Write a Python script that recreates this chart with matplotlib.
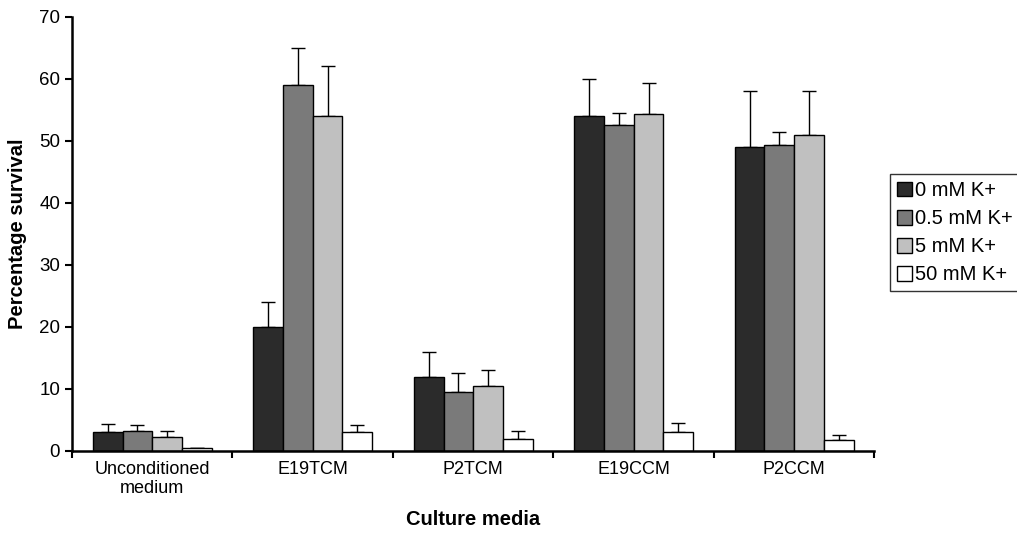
import numpy as np
import matplotlib.pyplot as plt

plt.rcParams['font.family'] = ['Liberation Sans', 'DejaVu Sans']

# Data
categories = ['Unconditioned\nmedium', 'E19TCM', 'P2TCM', 'E19CCM', 'P2CCM']
series = ['0 mM K+', '0.5 mM K+', '5 mM K+', '50 mM K+']
values = [
    [3.0, 20.0, 12.0, 54.0, 49.0],
    [3.3, 59.0, 9.5, 52.5, 49.4],
    [2.2, 54.0, 10.5, 54.4, 51.0],
    [0.4, 3.0, 2.0, 3.1, 1.8],
]
errors = [
    [1.3, 4.0, 4.0, 6.0, 9.0],
    [0.9, 6.0, 3.0, 2.0, 2.0],
    [1.1, 8.0, 2.5, 5.0, 7.0],
    [0.0, 1.2, 1.3, 1.4, 0.8],
]
colors = ['#2b2b2b', '#7a7a7a', '#c0c0c0', '#ffffff']

fig = plt.figure(figsize=(10.17, 5.44), dpi=100)
ax = fig.add_axes([0.0708, 0.171, 0.789, 0.798])

x = np.arange(len(categories))
w = 0.185
for i, (s, v, e, c) in enumerate(zip(series, values, errors, colors)):
    pos = x + (i - 1.5) * w
    ax.bar(pos, v, width=w, color=c, edgecolor='black', linewidth=1.0,
           label=s, zorder=2)
    ax.errorbar(pos, v, yerr=[np.zeros(len(e)), e], fmt='none',
                ecolor='black', elinewidth=1.0, capsize=5, capthick=1.0,
                zorder=1)

ax.set_xlim(-0.5, len(categories) - 0.5)
ax.set_ylim(0, 70)
ax.set_yticks(range(0, 71, 10))
ax.tick_params(axis='y', labelsize=13.5, length=5, width=1.5, direction='out')

# group boundaries as x ticks, labels at centers
ax.set_xticks(np.arange(-0.5, len(categories)), minor=False)
ax.set_xticklabels([])
ax.set_xticks(x, minor=True)
ax.set_xticklabels(categories, minor=True, fontsize=13)
ax.tick_params(axis='x', which='major', length=5, width=1.5, direction='out')
ax.tick_params(axis='x', which='minor', length=0, pad=7)

for side in ['top', 'right']:
    ax.spines[side].set_visible(False)
for side in ['left', 'bottom']:
    ax.spines[side].set_linewidth(1.8)

ax.set_xlabel('Culture media', fontsize=14.5, fontweight='bold', labelpad=9)
ax.set_ylabel('Percentage survival', fontsize=14.5, fontweight='bold', labelpad=9)

leg = fig.legend(loc='upper left', bbox_to_anchor=(0.875, 0.68),
                 fontsize=14.5, frameon=True, fancybox=False, edgecolor='black',
                 handlelength=0.75, handleheight=0.75, handletextpad=0.15,
                 borderpad=0.35, labelspacing=0.45, borderaxespad=0)
leg.get_frame().set_linewidth(1.0)

plt.savefig('out.png', dpi=100)
